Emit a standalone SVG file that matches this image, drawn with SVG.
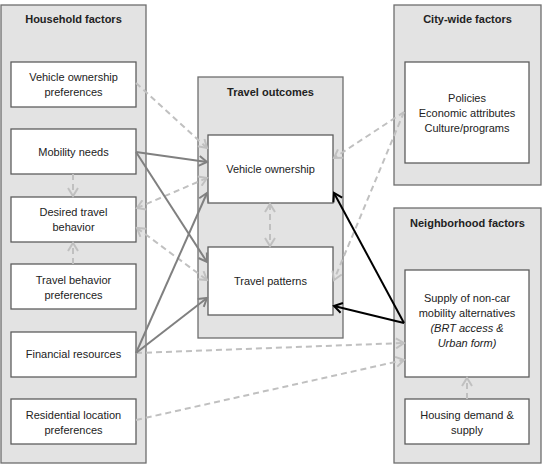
<svg xmlns="http://www.w3.org/2000/svg" width="544" height="466" viewBox="0 0 544 466">
<style>
.panel{fill:#e3e3e3;stroke:#6e6e6e;stroke-width:1.3}
.box{fill:#fff;stroke:#5e5e5e;stroke-width:1.3}
text{font-family:"Liberation Sans",Arial,sans-serif;font-size:11px;fill:#222;text-anchor:middle}
.t{font-weight:bold}
.i{font-style:italic}
.dash{fill:none;stroke:#c0c0c0;stroke-width:2;stroke-dasharray:6,4}
.gray{fill:none;stroke:#808080;stroke-width:2}
.blk{fill:none;stroke:#000;stroke-width:2}
</style>
<defs>
<marker id="ad" viewBox="0 0 12 12" refX="10" refY="6" markerWidth="12" markerHeight="12" markerUnits="userSpaceOnUse" orient="auto-start-reverse"><path d="M2,1 L10,6 L2,11" fill="none" stroke="#c0c0c0" stroke-width="2"/></marker>
<marker id="ag" viewBox="0 0 12 12" refX="10" refY="6" markerWidth="12" markerHeight="12" markerUnits="userSpaceOnUse" orient="auto"><path d="M2,1 L10,6 L2,11" fill="none" stroke="#808080" stroke-width="2"/></marker>
<marker id="ab" viewBox="0 0 12 12" refX="10" refY="6" markerWidth="12" markerHeight="12" markerUnits="userSpaceOnUse" orient="auto"><path d="M2,1 L10,6 L2,11" fill="none" stroke="#000" stroke-width="2"/></marker>
</defs>

<g id="household">
<rect class="panel" x="1" y="5" width="145" height="458"/>
<text class="t" x="73.5" y="23">Household factors</text>
</g>
<g id="vehicle-ownership-preferences">
<rect class="box" x="11" y="62" width="125" height="45"/>
<text x="73.5" y="81">Vehicle ownership</text>
<text x="73.5" y="96">preferences</text>
</g>
<g id="mobility-needs">
<rect class="box" x="11" y="129" width="125" height="45"/>
<text x="73.5" y="156">Mobility needs</text>
</g>
<g id="desired-travel-behavior">
<rect class="box" x="11" y="197" width="125" height="45"/>
<text x="73.5" y="216">Desired travel</text>
<text x="73.5" y="231">behavior</text>
</g>
<g id="travel-behavior-preferences">
<rect class="box" x="11" y="264" width="125" height="45"/>
<text x="73.5" y="284">Travel behavior</text>
<text x="73.5" y="299">preferences</text>
</g>
<g id="financial-resources">
<rect class="box" x="11" y="332" width="125" height="45"/>
<text x="73.5" y="358">Financial resources</text>
</g>
<g id="residential-location-preferences">
<rect class="box" x="11" y="399" width="125" height="45"/>
<text x="73.5" y="419">Residential location</text>
<text x="73.5" y="434">preferences</text>
</g>

<g id="travel-outcomes">
<rect class="panel" x="198" y="77" width="145" height="261"/>
<text class="t" x="270.5" y="96">Travel outcomes</text>
</g>
<g id="vehicle-ownership">
<rect class="box" x="208" y="135" width="125" height="68"/>
<text x="270.5" y="173">Vehicle ownership</text>
</g>
<g id="travel-patterns">
<rect class="box" x="208" y="247" width="125" height="68"/>
<text x="270.5" y="285">Travel patterns</text>
</g>

<g id="city-wide">
<rect class="panel" x="394" y="5" width="147" height="180"/>
<text class="t" x="467.5" y="23">City-wide factors</text>
</g>
<g id="city-factors">
<rect class="box" x="405" y="62" width="124" height="101"/>
<text x="467" y="102">Policies</text>
<text x="467" y="117">Economic attributes</text>
<text x="467" y="132">Culture/programs</text>
</g>

<g id="neighborhood">
<rect class="panel" x="394" y="208" width="147" height="255"/>
<text class="t" x="467.5" y="227">Neighborhood factors</text>
</g>
<g id="supply">
<rect class="box" x="405" y="270" width="124" height="107"/>
<text x="467" y="302">Supply of non-car</text>
<text x="467" y="317">mobility alternatives</text>
<text class="i" x="467" y="332">(BRT access &amp;</text>
<text class="i" x="467" y="347">Urban form)</text>
</g>
<g id="housing">
<rect class="box" x="405" y="399" width="124" height="45"/>
<text x="467" y="419">Housing demand &amp;</text>
<text x="467" y="434">supply</text>
</g>

<g id="connectors">
<line class="dash" x1="136" y1="83" x2="207" y2="148" marker-end="url(#ad)"/>
<line class="dash" x1="137" y1="208" x2="207" y2="178" marker-start="url(#ad)" marker-end="url(#ad)"/>
<line class="dash" x1="137" y1="228" x2="207" y2="280" marker-start="url(#ad)" marker-end="url(#ad)"/>
<line class="dash" x1="73" y1="174" x2="73" y2="196" marker-end="url(#ad)"/>
<line class="dash" x1="73" y1="264" x2="73" y2="243" marker-end="url(#ad)"/>
<line class="dash" x1="270" y1="204" x2="270" y2="246" marker-start="url(#ad)" marker-end="url(#ad)"/>
<line class="dash" x1="136" y1="353" x2="404" y2="343" marker-end="url(#ad)"/>
<line class="dash" x1="136" y1="420" x2="404" y2="360" marker-end="url(#ad)"/>
<line class="dash" x1="404" y1="112" x2="334" y2="158" marker-end="url(#ad)"/>
<line class="dash" x1="404" y1="112" x2="334" y2="280" marker-end="url(#ad)"/>
<line class="dash" x1="467" y1="399" x2="467" y2="378" marker-end="url(#ad)"/>

<line class="gray" x1="136" y1="152" x2="207" y2="162" marker-end="url(#ag)"/>
<line class="gray" x1="136" y1="152" x2="207" y2="262" marker-end="url(#ag)"/>
<line class="gray" x1="136" y1="353" x2="207" y2="193" marker-end="url(#ag)"/>
<line class="gray" x1="136" y1="353" x2="207" y2="298" marker-end="url(#ag)"/>

<line class="blk" x1="404" y1="323" x2="334" y2="193" marker-end="url(#ab)"/>
<line class="blk" x1="404" y1="323" x2="334" y2="306" marker-end="url(#ab)"/>
</g>
</svg>
